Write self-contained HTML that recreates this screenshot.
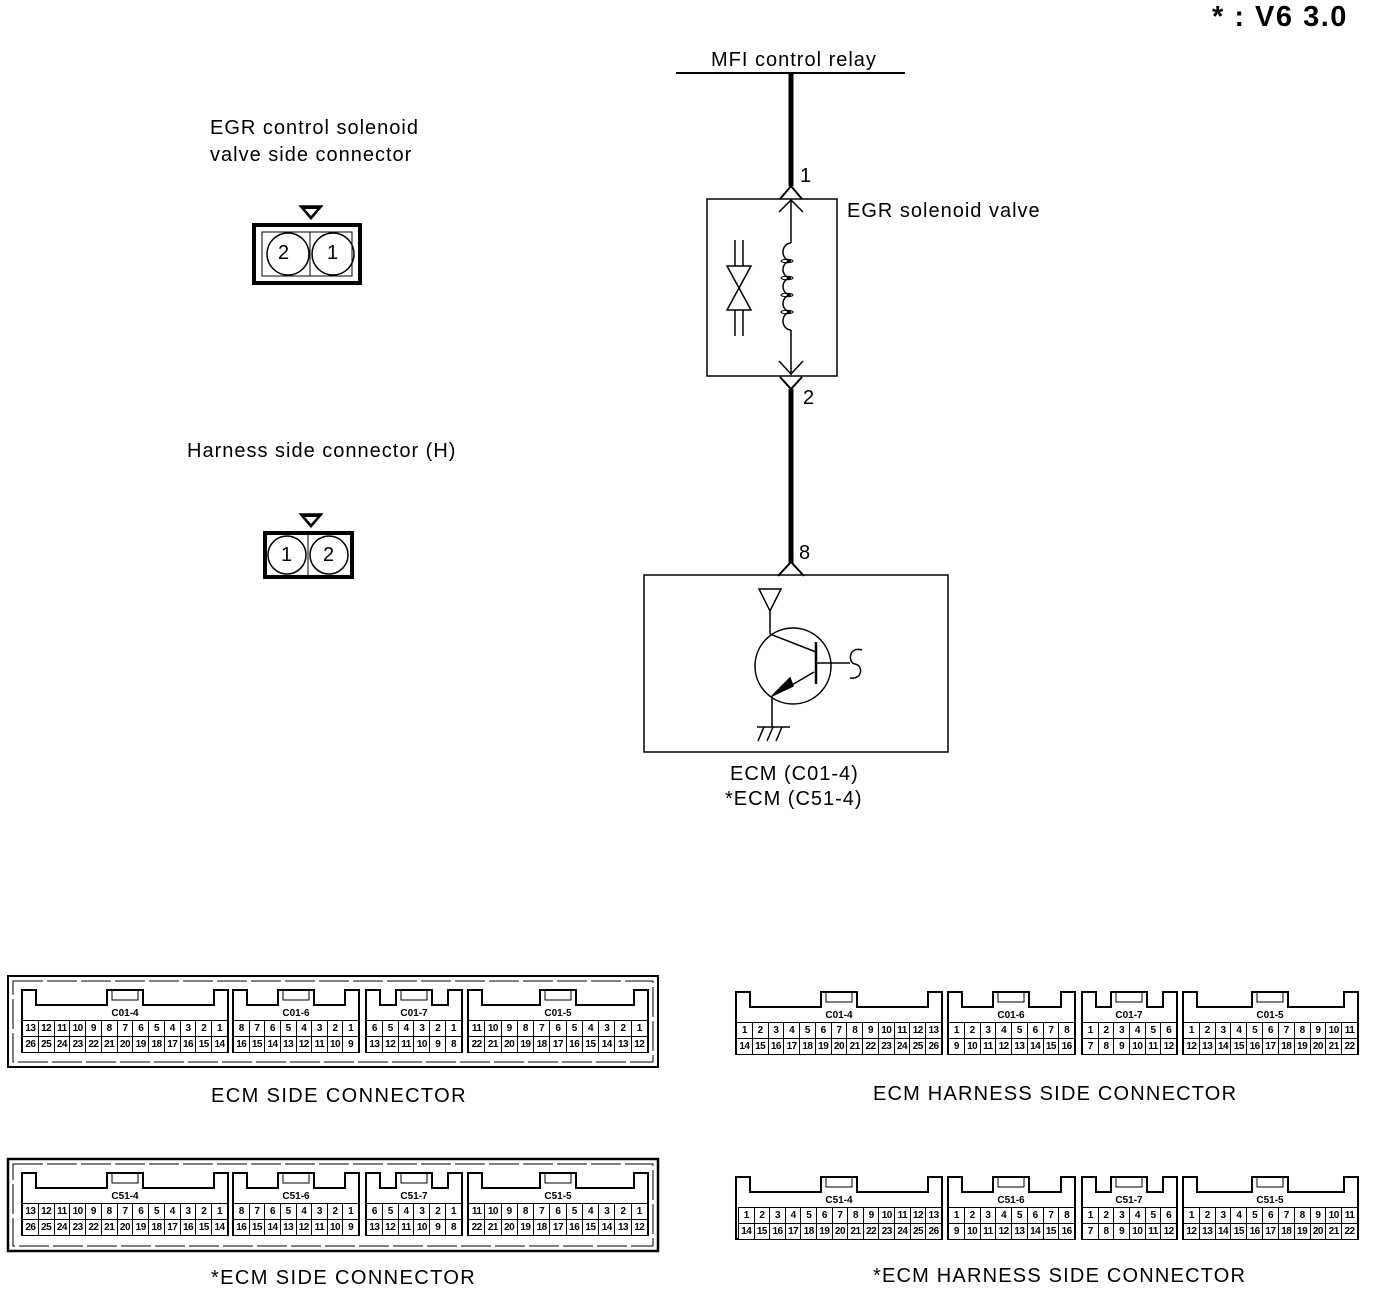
<!DOCTYPE html>
<html><head><meta charset="utf-8"><style>
body{margin:0;background:#fff}
#w{position:relative;width:1376px;height:1292px;overflow:hidden;font-family:"Liberation Sans",sans-serif;color:#000}
.t{position:absolute;white-space:nowrap;font-size:20px;line-height:1;letter-spacing:1px}
.c{position:absolute;display:flex;flex-direction:column;border:1.5px solid #000;box-sizing:border-box;height:33px;background:#fff}
.c div{display:flex;height:16px}
.c div+div{border-top:1px solid #000}
.c span{flex:1;border-left:1.5px solid #000;font-size:10px;font-weight:bold;text-align:center;line-height:15px;letter-spacing:-0.5px;overflow:hidden}
.c span:first-child{border-left:none}
svg{position:absolute;left:0;top:0}
</style></head><body><div id="w">
<svg width="1376" height="1292" viewBox="0 0 1376 1292" fill="none" stroke="#000" stroke-width="1.5">
<line x1="676" y1="73" x2="905" y2="73" stroke-width="2"/>
<line x1="791" y1="73" x2="791" y2="186" stroke-width="5"/>
<polyline points="780,199 791,186 802,199" stroke-width="2"/>
<rect x="707" y="199" width="130" height="177" stroke-width="1.5"/>
<polyline points="779,212 791,200 803,212" stroke-width="1.5"/>
<line x1="791" y1="200" x2="791" y2="243"/>
<path d="M791,243 A8,9 0 0 0 791,261 A8,8.5 0 0 0 791,278 A8,8.5 0 0 0 791,295 A8,8.5 0 0 0 791,312 A8,9 0 0 0 791,330"/>
<g stroke-width="1"><ellipse cx="787" cy="261" rx="6" ry="1.8"/><ellipse cx="787" cy="278" rx="6" ry="1.8"/><ellipse cx="787" cy="295" rx="6" ry="1.8"/><ellipse cx="787" cy="312" rx="6" ry="1.8"/></g>
<line x1="791" y1="330" x2="791" y2="375"/>
<polyline points="779,361 791,374 803,361"/>
<polyline points="780,377 791,389 802,377" stroke-width="2"/>
<line x1="791" y1="389" x2="791" y2="563" stroke-width="5"/>
<line x1="735" y1="240" x2="735" y2="266"/><line x1="743" y1="240" x2="743" y2="266"/>
<line x1="735" y1="310" x2="735" y2="336"/><line x1="743" y1="310" x2="743" y2="336"/>
<path d="M727,266 H751 L739,288 Z M727,310 H751 L739,288 Z"/>
<polyline points="778,576 791,562 804,576" stroke-width="2"/>
<rect x="644" y="575" width="304" height="177"/>
<path d="M759,589 H781 L770,611 Z"/>
<line x1="770" y1="611" x2="770" y2="634"/>
<circle cx="793" cy="666" r="38"/>
<line x1="770" y1="634" x2="816" y2="652"/>
<line x1="816" y1="642" x2="816" y2="684" stroke-width="2.5"/>
<line x1="816" y1="663" x2="850" y2="663"/>
<path d="M862,650 C848,646 848,663 855,664 C864,666 862,680 850,678"/>
<line x1="814" y1="672" x2="785" y2="689"/>
<path d="M772,696 L790,678 L793,686 Z" fill="#000"/>
<line x1="772" y1="696" x2="772" y2="727"/>
<line x1="757" y1="727" x2="790" y2="727"/>
<line x1="764" y1="727" x2="758" y2="741"/><line x1="773" y1="727" x2="767" y2="741"/><line x1="782" y1="727" x2="776" y2="741"/>
<path d="M300,206 H322 L311,219 Z" fill="#000"/><path d="M305,209 H317 L311,216 Z" fill="#fff" stroke="none"/>
<rect x="254" y="225" width="106" height="58" stroke-width="4"/>
<rect x="262" y="232" width="90" height="44" stroke-width="1"/>
<line x1="310" y1="232" x2="310" y2="276" stroke-width="1"/>
<circle cx="288" cy="254" r="21" stroke-width="1.5"/><circle cx="333" cy="254" r="21" stroke-width="1.5"/>
<path d="M300,514 H322 L311,527 Z" fill="#000"/><path d="M305,517 H317 L311,524 Z" fill="#fff" stroke="none"/>
<rect x="265" y="533" width="87" height="44" stroke-width="4"/>
<line x1="308" y1="535" x2="308" y2="575" stroke-width="1"/>
<circle cx="287" cy="555" r="19"/><circle cx="329" cy="555" r="19"/>
<rect x="8" y="976" width="650" height="91" stroke-width="2"/>
<rect x="13" y="981" width="640" height="81" stroke-width="1" stroke-dasharray="30 4"/>
<rect x="8" y="1159" width="650" height="92" stroke-width="2.5"/>
<rect x="13" y="1164" width="640" height="82" stroke-width="1" stroke-dasharray="30 4"/>
<g id="A" stroke-width="2">
<path d="M22,1052V990H36V1005H107V990H143V1005H214V990H228V1052Z"/>
<path d="M233,1052V990H247V1005H278V990H314V1005H345V990H359V1052Z"/>
<path d="M366,1052V990H380V1005H396V990H432V1005H448V990H462V1052Z"/>
<path d="M468,1052V990H482V1005H540V990H576V1005H634V990H648V1052Z"/>
<g stroke-width="1"><path d="M112,990V1000H138V990M283,990V1000H309V990M401,990V1000H427V990M545,990V1000H571V990"/></g>
</g>
<use href="#A" transform="translate(0,183)"/>
<g id="B" stroke-width="2">
<path d="M736,1054V992H750V1007H821V992H857V1007H928V992H942V1054Z"/>
<path d="M948,1054V992H962V1007H993V992H1029V1007H1061V992H1075V1054Z"/>
<path d="M1082,1054V992H1096V1007H1111V992H1147V1007H1163V992H1177V1054Z"/>
<path d="M1183,1054V992H1197V1007H1252V992H1288V1007H1344V992H1358V1054Z"/>
<g stroke-width="1"><path d="M826,992V1002H852V992M998,992V1002H1024V992M1116,992V1002H1142V992M1257,992V1002H1283V992"/></g>
</g>
<use href="#B" transform="translate(0,185)"/>
<g font-family="Liberation Sans" font-size="10" font-weight="bold" fill="#000" stroke="none" text-anchor="middle">
<text x="125" y="1016">C01-4</text><text x="296" y="1016">C01-6</text><text x="414" y="1016">C01-7</text><text x="558" y="1016">C01-5</text>
<text x="125" y="1199">C51-4</text><text x="296" y="1199">C51-6</text><text x="414" y="1199">C51-7</text><text x="558" y="1199">C51-5</text>
<text x="839" y="1018">C01-4</text><text x="1011" y="1018">C01-6</text><text x="1129" y="1018">C01-7</text><text x="1270" y="1018">C01-5</text>
<text x="839" y="1203">C51-4</text><text x="1011" y="1203">C51-6</text><text x="1129" y="1203">C51-7</text><text x="1270" y="1203">C51-5</text>
</g>
</svg>

<div class="t" style="left:1212px;top:3px;font-size:29px;font-weight:bold;letter-spacing:1.5px">* : V6 3.0</div>
<div class="t" style="left:711px;top:50px">MFI control relay</div>
<div class="t" style="left:800px;top:166px">1</div>
<div class="t" style="left:847px;top:201px">EGR solenoid valve</div>
<div class="t" style="left:803px;top:388px">2</div>
<div class="t" style="left:799px;top:543px">8</div>
<div class="t" style="left:730px;top:764px">ECM (C01-4)</div>
<div class="t" style="left:725px;top:789px">*ECM (C51-4)</div>
<div class="t" style="left:210px;top:118px">EGR control solenoid</div>
<div class="t" style="left:210px;top:145px">valve side connector</div>
<div class="t" style="left:187px;top:441px">Harness side connector (H)</div>
<div class="t" style="left:278px;top:243px;font-size:20px">2</div>
<div class="t" style="left:327px;top:243px;font-size:20px">1</div>
<div class="t" style="left:281px;top:545px;font-size:20px">1</div>
<div class="t" style="left:323px;top:545px;font-size:20px">2</div>
<div class="t" style="left:211px;top:1086px;letter-spacing:1.4px">ECM SIDE CONNECTOR</div>
<div class="t" style="left:873px;top:1084px;letter-spacing:1.2px">ECM HARNESS SIDE CONNECTOR</div>
<div class="t" style="left:211px;top:1268px;letter-spacing:1.4px">*ECM SIDE CONNECTOR</div>
<div class="t" style="left:873px;top:1266px;letter-spacing:1.2px">*ECM HARNESS SIDE CONNECTOR</div>

<div class="c" style="left:22px;top:1020px;width:206px"><div><span>13</span><span>12</span><span>11</span><span>10</span><span>9</span><span>8</span><span>7</span><span>6</span><span>5</span><span>4</span><span>3</span><span>2</span><span>1</span></div><div><span>26</span><span>25</span><span>24</span><span>23</span><span>22</span><span>21</span><span>20</span><span>19</span><span>18</span><span>17</span><span>16</span><span>15</span><span>14</span></div></div>
<div class="c" style="left:233px;top:1020px;width:126px"><div><span>8</span><span>7</span><span>6</span><span>5</span><span>4</span><span>3</span><span>2</span><span>1</span></div><div><span>16</span><span>15</span><span>14</span><span>13</span><span>12</span><span>11</span><span>10</span><span>9</span></div></div>
<div class="c" style="left:366px;top:1020px;width:96px"><div><span>6</span><span>5</span><span>4</span><span>3</span><span>2</span><span>1</span></div><div><span>13</span><span>12</span><span>11</span><span>10</span><span>9</span><span>8</span></div></div>
<div class="c" style="left:468px;top:1020px;width:180px"><div><span>11</span><span>10</span><span>9</span><span>8</span><span>7</span><span>6</span><span>5</span><span>4</span><span>3</span><span>2</span><span>1</span></div><div><span>22</span><span>21</span><span>20</span><span>19</span><span>18</span><span>17</span><span>16</span><span>15</span><span>14</span><span>13</span><span>12</span></div></div>
<div class="c" style="left:22px;top:1203px;width:206px"><div><span>13</span><span>12</span><span>11</span><span>10</span><span>9</span><span>8</span><span>7</span><span>6</span><span>5</span><span>4</span><span>3</span><span>2</span><span>1</span></div><div><span>26</span><span>25</span><span>24</span><span>23</span><span>22</span><span>21</span><span>20</span><span>19</span><span>18</span><span>17</span><span>16</span><span>15</span><span>14</span></div></div>
<div class="c" style="left:233px;top:1203px;width:126px"><div><span>8</span><span>7</span><span>6</span><span>5</span><span>4</span><span>3</span><span>2</span><span>1</span></div><div><span>16</span><span>15</span><span>14</span><span>13</span><span>12</span><span>11</span><span>10</span><span>9</span></div></div>
<div class="c" style="left:366px;top:1203px;width:96px"><div><span>6</span><span>5</span><span>4</span><span>3</span><span>2</span><span>1</span></div><div><span>13</span><span>12</span><span>11</span><span>10</span><span>9</span><span>8</span></div></div>
<div class="c" style="left:468px;top:1203px;width:180px"><div><span>11</span><span>10</span><span>9</span><span>8</span><span>7</span><span>6</span><span>5</span><span>4</span><span>3</span><span>2</span><span>1</span></div><div><span>22</span><span>21</span><span>20</span><span>19</span><span>18</span><span>17</span><span>16</span><span>15</span><span>14</span><span>13</span><span>12</span></div></div>
<div class="c" style="left:736px;top:1022px;width:206px"><div><span>1</span><span>2</span><span>3</span><span>4</span><span>5</span><span>6</span><span>7</span><span>8</span><span>9</span><span>10</span><span>11</span><span>12</span><span>13</span></div><div><span>14</span><span>15</span><span>16</span><span>17</span><span>18</span><span>19</span><span>20</span><span>21</span><span>22</span><span>23</span><span>24</span><span>25</span><span>26</span></div></div>
<div class="c" style="left:948px;top:1022px;width:127px"><div><span>1</span><span>2</span><span>3</span><span>4</span><span>5</span><span>6</span><span>7</span><span>8</span></div><div><span>9</span><span>10</span><span>11</span><span>12</span><span>13</span><span>14</span><span>15</span><span>16</span></div></div>
<div class="c" style="left:1082px;top:1022px;width:95px"><div><span>1</span><span>2</span><span>3</span><span>4</span><span>5</span><span>6</span></div><div><span>7</span><span>8</span><span>9</span><span>10</span><span>11</span><span>12</span></div></div>
<div class="c" style="left:1183px;top:1022px;width:175px"><div><span>1</span><span>2</span><span>3</span><span>4</span><span>5</span><span>6</span><span>7</span><span>8</span><span>9</span><span>10</span><span>11</span></div><div><span>12</span><span>13</span><span>14</span><span>15</span><span>16</span><span>17</span><span>18</span><span>19</span><span>20</span><span>21</span><span>22</span></div></div>
<div class="c" style="left:738px;top:1207px;width:204px"><div><span>1</span><span>2</span><span>3</span><span>4</span><span>5</span><span>6</span><span>7</span><span>8</span><span>9</span><span>10</span><span>11</span><span>12</span><span>13</span></div><div><span>14</span><span>15</span><span>16</span><span>17</span><span>18</span><span>19</span><span>20</span><span>21</span><span>22</span><span>23</span><span>24</span><span>25</span><span>26</span></div></div>
<div class="c" style="left:948px;top:1207px;width:127px"><div><span>1</span><span>2</span><span>3</span><span>4</span><span>5</span><span>6</span><span>7</span><span>8</span></div><div><span>9</span><span>10</span><span>11</span><span>12</span><span>13</span><span>14</span><span>15</span><span>16</span></div></div>
<div class="c" style="left:1082px;top:1207px;width:95px"><div><span>1</span><span>2</span><span>3</span><span>4</span><span>5</span><span>6</span></div><div><span>7</span><span>8</span><span>9</span><span>10</span><span>11</span><span>12</span></div></div>
<div class="c" style="left:1183px;top:1207px;width:175px"><div><span>1</span><span>2</span><span>3</span><span>4</span><span>5</span><span>6</span><span>7</span><span>8</span><span>9</span><span>10</span><span>11</span></div><div><span>12</span><span>13</span><span>14</span><span>15</span><span>16</span><span>17</span><span>18</span><span>19</span><span>20</span><span>21</span><span>22</span></div></div>
</div></body></html>
